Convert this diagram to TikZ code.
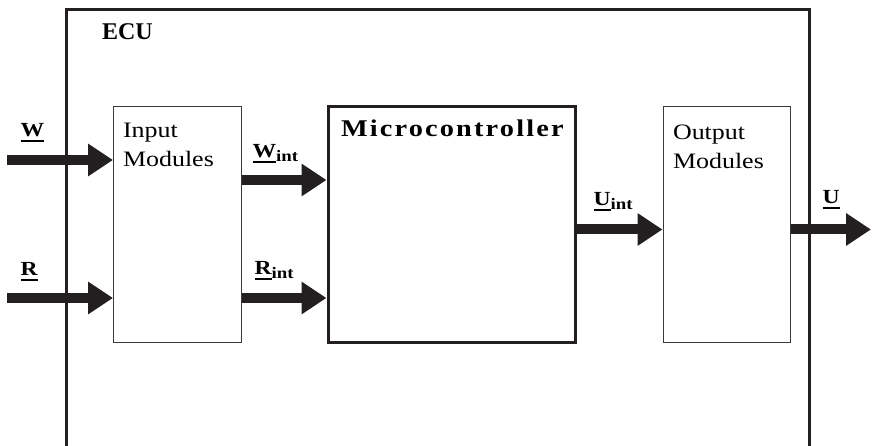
\documentclass[tikz,border=0pt]{standalone}
\usepackage{fontspec}
\setmainfont{Liberation Serif}
\newfontfamily\widefont[FakeStretch=1.18]{Liberation Serif}
\usetikzlibrary{arrows.meta, positioning}
\definecolor{cink}{HTML}{231F20}
\definecolor{cthin}{HTML}{3A3A3A}
% underlined signal letter, subscript
\newcommand{\sigul}[1]{\setbox0\hbox{#1}\rlap{\rule[-5pt]{\wd0}{2pt}}\box0}
\newcommand{\sigsub}[1]{\raisebox{-4pt}{\fontsize{16}{16}\selectfont #1}}
\tikzset{
  every picture/.style={line width=1pt},
  frame/.style={draw=cink, line width=3pt},
  module/.style={draw=cthin, line width=1pt, inner sep=0pt, minimum height=236pt},
  mcubox/.style={draw=cink, line width=3pt, inner sep=0pt, minimum height=236pt},
  boxtext/.style={anchor=base west, align=left, inner sep=0pt, font=\widefont\fontsize{22}{29}\selectfont},
  title/.style={anchor=base west, inner sep=0pt, font=\fontsize{24}{29}\selectfont\bfseries},
  sigarrow/.style={-{Triangle[length=25pt, width=31pt]}, draw=cink, line width=10pt},
  siglabel/.style={anchor=base west, inner sep=0pt, font=\widefont\fontsize{20}{24}\selectfont\bfseries},
}

\begin{document}
\begin{tikzpicture}[x=1pt, y=-1pt]
  \useasboundingbox (0,0) rectangle (873,446);
  \draw[frame] (66,450) -- (66,10) -- (809,10) -- (809,450);
  \node[title] (ecu) at (101.5,40) {ECU};
  \node[module, minimum width=127.5pt] (inbox) at (177.25,225) {};
  \node[mcubox, minimum width=247pt] (mcu) at (451.5,225) {};
  \node[module, minimum width=127pt] (outbox) at (726.5,225) {};
  \node[boxtext] (intext) at ([xshift=9.5pt, yshift=-60pt]inbox.north west) {Input\\Modules};
  \node[title, font=\widefont\fontsize{24}{29}\selectfont\bfseries] (mcutext) at ([xshift=14pt, yshift=-31pt]mcu.north west) {\addfontfeature{LetterSpace=9}Microcontroller};
  \node[boxtext] (outtext) at ([xshift=10pt, yshift=-62pt]outbox.north west) {Output\\Modules};
  % signals
  \coordinate (wsrc) at (7,160);
  \coordinate (rsrc) at (7,298);
  \coordinate (usink) at (871,229.5);
  \draw[sigarrow] (wsrc) -- (wsrc -| inbox.west);
  \draw[sigarrow] (rsrc) -- (rsrc -| inbox.west);
  \draw[sigarrow] (inbox.east |- 0,180) -- (mcu.west |- 0,180);
  \draw[sigarrow] (inbox.east |- 0,298) -- (mcu.west |- 0,298);
  \draw[sigarrow] (mcu.east |- usink) -- (outbox.west |- usink);
  \draw[sigarrow] (outbox.east |- usink) -- (usink);
  \node[siglabel] (lblW) at (20,137) {\sigul{W}};
  \node[siglabel] (lblR) at (20,276) {\sigul{R}};
  \node[siglabel] (lblWint) at (252,158) {\sigul{W}\sigsub{int}};
  \node[siglabel] (lblRint) at (254,275) {\sigul{R}\sigsub{int}};
  \node[siglabel] (lblUint) at (593,206) {\sigul{U}\sigsub{int}};
  \node[siglabel] (lblU) at (822,204) {\sigul{U}};
\end{tikzpicture}
\end{document}
